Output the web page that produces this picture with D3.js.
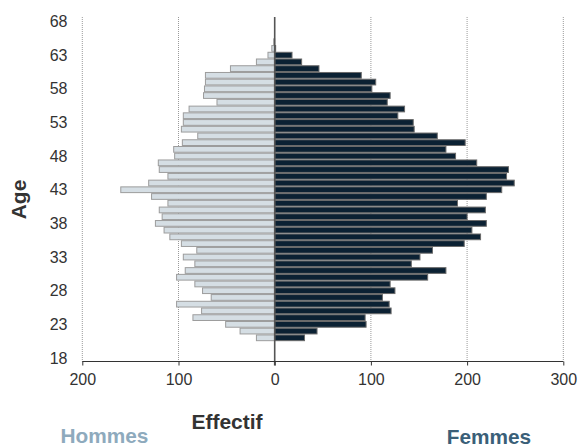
<!DOCTYPE html>
<html><head><meta charset="utf-8">
<script src="https://d3js.org/d3.v7.min.js"></script>
<style>body{margin:0;background:#fff}svg{display:block}text{font-family:"Liberation Sans",Arial,sans-serif}</style>
</head><body>
<svg id="c" width="579" height="446"></svg>
<script>
const ages    = [65,64,63,62,61,60,59,58,57,56,55,54,53,52,51,50,49,48,47,46,45,44,43,42,41,40,39,38,37,36,35,34,33,32,31,30,29,28,27,26,25,24,23,22,21];
const hommes  = [1,3,7,19,46,72,72,73,74,60,89,95,95,97,80,96,105,104,121,120,111,131,160,128,111,120,117,124,115,109,97,81,95,83,93,102,83,75,66,102,76,85,51,36,19];
const femmes  = [0,1,18,28,46,90,105,101,120,117,135,128,144,145,169,198,178,188,210,243,241,249,236,220,190,219,200,220,205,214,197,164,151,142,178,159,120,125,112,119,121,94,95,44,31];
const xTicks  = [-200,-100,0,100,200,300];
const yTicks  = [18,23,28,33,38,43,48,53,58,63,68];

const svg = d3.select("#c");
const x = d3.scaleLinear().domain([-200,300]).range([82.3,563.3]);
const y = d3.scaleLinear().domain([18,68]).range([358,21.5]);
const step = Math.abs(y(1)-y(0));
const axisY = 361.5;

// gridlines
svg.append("g").selectAll("line").data(xTicks.filter(d=>d!==0)).join("line")
  .attr("x1",d=>x(d)).attr("x2",d=>x(d)).attr("y1",17).attr("y2",axisY)
  .attr("stroke","#9a9a9a").attr("stroke-width",1).attr("stroke-dasharray","1,1");

const data = ages.map((a,i)=>({a,h:hommes[i],f:femmes[i]}));
// hommes bars
svg.append("g").selectAll("rect").data(data.filter(d=>d.h>0)).join("rect")
  .attr("x",d=>x(-d.h)).attr("width",d=>x(0)-x(-d.h))
  .attr("y",d=>y(d.a)-step/2+0.5).attr("height",step-1)
  .attr("fill","#d5dee4").attr("stroke","#9c9c9c").attr("stroke-width",1);
// femmes bars
svg.append("g").selectAll("rect").data(data.filter(d=>d.f>0)).join("rect")
  .attr("x",x(0)).attr("width",d=>x(d.f)-x(0))
  .attr("y",d=>y(d.a)-step/2+0.5).attr("height",step-1)
  .attr("fill","#0b2133").attr("stroke","#6a6a6a").attr("stroke-width",1);

// center line
svg.append("line").attr("x1",x(0)).attr("x2",x(0)).attr("y1",17).attr("y2",axisY+4)
  .attr("stroke","#555").attr("stroke-width",1.6);

// x axis
const xa = d3.axisBottom(x).tickValues(xTicks).tickSize(4).tickPadding(8).tickFormat(d=>Math.abs(d));
const gx = svg.append("g").attr("transform",`translate(0,${axisY})`).call(xa);
gx.select(".domain").attr("stroke","#333").attr("stroke-width",1.2).attr("d",`M${x(-200)},0H${x(300)}`);
gx.selectAll(".tick line").attr("stroke","#333");
gx.selectAll(".tick text").attr("font-size",16).attr("fill","#333").attr("font-family","Liberation Sans, Arial, sans-serif");

// y axis labels
const ya = d3.axisLeft(y).tickValues(yTicks).tickSize(0).tickPadding(0);
const gy = svg.append("g").attr("transform","translate(67.5,0)").call(ya);
gy.select(".domain").remove();
gy.selectAll(".tick text").attr("font-size",16).attr("fill","#333").attr("font-family","Liberation Sans, Arial, sans-serif");

// titles
svg.append("text").attr("transform","translate(25.5,199.5) rotate(-90)").attr("text-anchor","middle")
  .attr("font-size",21).attr("font-weight","bold").attr("fill","#333").text("Age");
svg.append("text").attr("x",227).attr("y",428.7).attr("text-anchor","middle")
  .attr("font-size",21).attr("font-weight","bold").attr("fill","#333").text("Effectif");
svg.append("text").attr("x",104.5).attr("y",442.5).attr("text-anchor","middle")
  .attr("font-size",20.8).attr("font-weight","bold").attr("fill","#8eaabd").text("Hommes");
svg.append("text").attr("x",489).attr("y",443.5).attr("text-anchor","middle")
  .attr("font-size",20.8).attr("font-weight","bold").attr("fill","#3a5f78").text("Femmes");
</script>
</body></html>
